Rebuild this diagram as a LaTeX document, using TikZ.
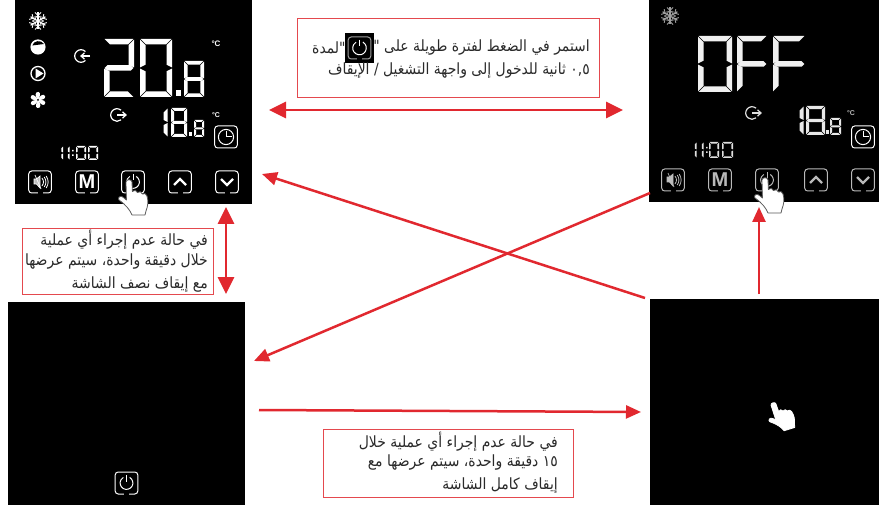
\documentclass[tikz,border=0pt]{standalone}
\usepackage{fontspec}
\usetikzlibrary{arrows.meta}
\TeXXeTstate=1
\newfontfamily\arabicfont[Script=Arabic,FakeStretch=0.9]{DejaVu Sans}
\setmainfont{Liberation Sans}
\definecolor{arrowred}{HTML}{E1282F}
\definecolor{boxred}{HTML}{E4494E}
\definecolor{txt}{HTML}{2A2A2A}
\tikzset{
  panel/.style={fill=black,draw=none,inner sep=0,outer sep=0},
  redarrow/.style={draw=arrowred,line width=2.5pt,-{Triangle[length=15pt,width=13pt]}},
  redboth/.style={draw=arrowred,line width=2.7pt,{Triangle[length=17pt,width=16pt]}-{Triangle[length=17pt,width=16pt]}},
  notebox/.style={draw=boxred,line width=1pt,fill=white},
  artext/.style={font=\arabicfont\fontsize{15.5}{18}\selectfont,text=txt,inner sep=0,anchor=east},
  keyb/.style={draw=#1,line width=1pt,rounded corners=3pt},
  lbl/.style={font=\bfseries\fontsize{#1}{#1}\selectfont,text=white,inner sep=0}
}
% seven-segment digit: #1 x, #2 y, #3 w, #4 h, #5 thickness, #6 colour, #7 list of segments
\newcommand{\sevenseg}[7]{%
  \begin{scope}[shift={(#1,#2)}]
  \def\W{#3}\def\H{#4}\def\T{#5}\def\G{0.6}%
  \foreach \s in {#7}{%
    \ifnum\s=1 \fill[#6] (\G,0) -- (\W-\G,0) -- (\W-\G-\T,\T) -- (\G+\T,\T) -- cycle;\fi
    \ifnum\s=2 \fill[#6] (\W,\G) -- (\W,\H/2-\G) -- (\W-\T,\H/2-\G-\T/2) -- (\W-\T,\G+\T) -- cycle;\fi
    \ifnum\s=3 \fill[#6] (\W,\H/2+\G) -- (\W,\H-\G) -- (\W-\T,\H-\G-\T) -- (\W-\T,\H/2+\G+\T/2) -- cycle;\fi
    \ifnum\s=4 \fill[#6] (\G,\H) -- (\W-\G,\H) -- (\W-\G-\T,\H-\T) -- (\G+\T,\H-\T) -- cycle;\fi
    \ifnum\s=5 \fill[#6] (0,\H/2+\G) -- (0,\H-\G) -- (\T,\H-\G-\T) -- (\T,\H/2+\G+\T/2) -- cycle;\fi
    \ifnum\s=6 \fill[#6] (0,\G) -- (0,\H/2-\G) -- (\T,\H/2-\G-\T/2) -- (\T,\G+\T) -- cycle;\fi
    \ifnum\s=7 \fill[#6] (\G+\T/2,\H/2-\T/2) -- (\W-\G-\T/2,\H/2-\T/2) -- (\W-\G,\H/2) -- (\W-\G-\T/2,\H/2+\T/2) -- (\G+\T/2,\H/2+\T/2) -- (\G,\H/2) -- cycle;\fi
  }%
  \end{scope}}
\newcommand{\keyframe}[3]{\draw[keyb=#3] (#1-11.3,#2-11) rectangle (#1+11.3,#2+11);
  \fill[black] (#1-2.5,#2+10) rectangle (#1+2.5,#2+12);}
\newcommand{\powerglyph}[4]{%
  \draw[#3,line width=1pt] (#1,#2) ++(-60:#4) arc[start angle=-60,end angle=240,radius=#4];
  \draw[#3,line width=1pt] (#1,#2-#4-1.5) -- (#1,#2-1.5);}
\newcommand{\keypower}[3]{\keyframe{#1}{#2}{#3}\powerglyph{#1}{#2}{#3}{6.4}}
\newcommand{\keymode}[3]{\keyframe{#1}{#2}{#3}\node[lbl=20,text=#3] at (#1,#2) {M};}
\newcommand{\keyup}[3]{\keyframe{#1}{#2}{#3}\draw[#3,line width=2.2pt] (#1-6,#2+3) -- (#1,#2-3) -- (#1+6,#2+3);}
\newcommand{\keydown}[3]{\keyframe{#1}{#2}{#3}\draw[#3,line width=2.2pt] (#1-6,#2-3) -- (#1,#2+3) -- (#1+6,#2-3);}
\newcommand{\keymute}[3]{\keyframe{#1}{#2}{#3}
  \draw[#3,line width=0.7pt,fill=gray!50] (#1-6,#2-3) -- (#1-3.5,#2-3) -- (#1,#2-6) -- (#1,#2+6) -- (#1-3.5,#2+2) -- (#1-6,#2+2) -- cycle;
  \draw[#3,line width=0.7pt] (#1-5,#2-7) -- (#1+1,#2+7);
  \draw[#3,line width=0.8pt] (#1+2,#2-4) .. controls (#1+4,#2-1) and (#1+4,#2+1) .. (#1+2,#2+4);
  \draw[#3,line width=0.8pt] (#1+4.2,#2-5) .. controls (#1+6.5,#2-2) and (#1+6.5,#2+2) .. (#1+4.2,#2+5);
  \draw[#3,line width=0.8pt] (#1+6.2,#2-6) .. controls (#1+8.8,#2-2) and (#1+8.8,#2+2) .. (#1+6.2,#2+6);}
\newcommand{\keyclock}[3]{\draw[keyb=#3] (#1-11.3,#2-11) rectangle (#1+11.3,#2+11);
  \draw[#3,line width=1pt] (#1,#2) circle[radius=7.6];
  \draw[#3,line width=1pt] (#1,#2-5.5) -- (#1,#2) -- (#1+5.5,#2);}
\newcommand{\snow}[3]{%
  \foreach \a in {0,60,120}{%
    \draw[#3,line width=1.2pt,rotate around={\a:(#1,#2)}] (#1,#2-8.5) -- (#1,#2+8.5);}
  \foreach \a in {0,60,120,180,240,300}{%
    \draw[#3,line width=0.9pt,rotate around={\a:(#1,#2)}] (#1-3,#2-8.5) -- (#1,#2-5.5) -- (#1+3,#2-8.5);
    \draw[#3,line width=0.9pt,rotate around={\a:(#1,#2)}] (#1-2.4,#2-5) -- (#1,#2-2.8) -- (#1+2.4,#2-5);}}
\newcommand{\arrowin}[3]{%
  \draw[#3,line width=1.2pt] (#1,#2) ++(45:6.3) arc[start angle=45,end angle=315,radius=6.3];
  \draw[#3,line width=1.2pt] (#1+9,#2) -- (#1,#2);
  \draw[#3,line width=1.2pt] (#1+3.5,#2-3.2) -- (#1,#2) -- (#1+3.5,#2+3.2);}
\newcommand{\arrowout}[3]{%
  \draw[#3,line width=1.2pt] (#1,#2) ++(-50:6.3) arc[start angle=-50,end angle=-310,radius=6.3];
  \draw[#3,line width=1.2pt] (#1,#2) -- (#1+9,#2);
  \draw[#3,line width=1.2pt] (#1+5.5,#2-3.2) -- (#1+9,#2) -- (#1+5.5,#2+3.2);}
% hand, origin at fingertip: #1 x, #2 y, #3 angle, #4 colour, #5 scale
\newcommand{\handshape}[5]{%
  \begin{scope}[shift={(#1,#2)},rotate=#3,scale=#5]
  \draw[#4,fill=white,line width=0.8pt,line join=round]
    (-3,2) .. controls (-3,-1) and (3,-1) .. (3,2) -- (3.4,11.5)
    .. controls (5,9.5) and (8,10) .. (8.5,12.5)
    .. controls (10,11) and (13,11.5) .. (13.5,14)
    .. controls (15,13) and (17.5,13.5) .. (18,16)
    .. controls (19.5,21) and (19,26) .. (17,31) -- (16,35)
    -- (3,35) .. controls (1,30) and (-3,25) .. (-10,20)
    .. controls (-12,18) and (-8.5,14.5) .. (-5.5,17.5)
    -- (-2.6,20) -- cycle;
  \end{scope}}
\begin{document}
\begin{tikzpicture}[x=1pt,y=-1pt]
\useasboundingbox (0,0) rectangle (879,508);
\fill[white] (0,0) rectangle (879,508);
% panels
\node[panel,minimum width=237pt,minimum height=204pt,anchor=north west] (pa) at (15,0) {};
\node[panel,minimum width=230pt,minimum height=202pt,anchor=north west] (pb) at (649,0) {};
\node[panel,minimum width=237pt,minimum height=203pt,anchor=north west] (pc) at (8,302) {};
\node[panel,minimum width=229pt,minimum height=206pt,anchor=north west] (pd) at (650,299) {};

% --- panel A
\snow{38}{21}{white}
\fill[white] (38,47) circle[radius=7.6];
\fill[black] (32.3,45.5) .. controls (33.5,40.5) and (41,39.5) .. (44,44) -- cycle;
\draw[white,line width=1.3pt] (38,73.5) circle[radius=7];
\fill[white] (35.5,68.5) -- (43.5,73.5) -- (35.5,78.5) -- cycle;
\foreach \a in {0,60,120,180,240,300}{
  \fill[white,rotate around={\a:(38,100)}] (38,100) .. controls (34.5,96) and (35,91.5) .. (38.5,92) .. controls (41,93) and (40,97) .. (38,100) -- cycle;}
\fill[black] (38,100) circle[radius=1];
\arrowin{81}{56}{white}
\arrowout{117}{115}{white}
\sevenseg{104}{39}{30}{58}{5.5}{white}{1,2,7,5,4}
\sevenseg{140}{39}{32}{58}{5.5}{white}{1,2,3,4,5,6}
\fill[white] (176,90) rectangle (181,96);
\sevenseg{184}{61}{20}{36}{3.6}{white}{1,2,3,4,5,6,7}
\node[lbl=8] (ca) at (216,44) {°C};
\sevenseg{163}{108}{4.5}{29}{4}{white}{2,3}
\sevenseg{171}{108}{16}{29}{3}{white}{1,2,3,4,5,6,7}
\fill[white] (189,132) rectangle (192,136);
\sevenseg{194}{120}{10}{17}{2}{white}{1,2,3,4,5,6,7}
\node[lbl=7] (cb) at (216,115) {°C};
\keyclock{226}{137}{white}
\sevenseg{60.5}{146}{2.5}{14}{1.6}{white}{2,3}
\sevenseg{67}{146}{2.5}{14}{1.6}{white}{2,3}
\fill[white] (72,150) rectangle (73.5,151.5) (72,154.5) rectangle (73.5,156);
\sevenseg{76}{146}{10}{14}{1.7}{white}{1,2,3,4,5,6}
\sevenseg{88}{146}{10}{14}{1.7}{white}{1,2,3,4,5,6}
\keymute{40}{182}{white}
\keymode{87}{182}{white}
\keypower{133}{182}{white}
\keyup{180}{182}{white}
\keydown{227}{182}{white}
\handshape{129}{180}{0}{gray!70!black}{1}

% --- panel B
\snow{670}{16}{gray!75}
\sevenseg{698}{36}{34}{56}{5.5}{gray!12}{1,2,3,4,5,6}
\sevenseg{737}{36}{30}{56}{5.5}{gray!12}{1,6,7,5}
\sevenseg{773}{36}{32}{56}{5.5}{gray!12}{1,6,7,5}
\arrowout{752}{113}{gray!25}
\sevenseg{799}{106}{4.5}{29}{4}{gray!18}{2,3}
\sevenseg{806}{106}{19}{29}{3.2}{gray!18}{1,2,3,4,5,6,7}
\fill[gray!18] (826,130) rectangle (829,134);
\sevenseg{830}{118}{11}{17}{2}{gray!18}{1,2,3,4,5,6,7}
\node[lbl=7,text=gray!55] (cc) at (851,113) {°C};
\keyclock{863}{137}{white}
\sevenseg{694}{142}{2.5}{16}{1.6}{gray!25}{2,3}
\sevenseg{701}{142}{2.5}{16}{1.6}{gray!25}{2,3}
\fill[gray!25] (706,147) rectangle (707.5,148.5) (706,151.5) rectangle (707.5,153);
\sevenseg{709}{142}{10}{16}{1.7}{gray!25}{1,2,3,4,5,6}
\sevenseg{722}{142}{11}{16}{1.7}{gray!25}{1,2,3,4,5,6}
\keymute{673}{180}{gray!55}
\keymode{720}{180}{gray!55}
\keypower{767}{180}{gray!55}
\keyup{816}{180}{gray!55}
\keydown{863}{180}{gray!55}
\handshape{765}{178}{0}{gray!70!black}{1}

% --- panel C
\keypower{126.5}{483}{white}

% --- panel D
\handshape{773}{403}{17}{white}{0.85}

% --- notes
\node[notebox,minimum width=302pt,minimum height=79pt,anchor=north west] (n1) at (297,18) {};
\node[artext] (n1a) at (590,48) {\beginR استمر في الضغط لفترة طويلة على "\endR};
\node[panel,minimum width=29pt,minimum height=30pt] (ic) at (359.5,48) {};
\keyframe{359.5}{48}{gray!75}
\powerglyph{359.5}{48}{white}{6.8}
\node[artext,anchor=west] (n1b) at (312,48) {\beginR "لمدة\endR};
\node[artext] (n1c) at (590,71) {\beginR \beginL ٠,٥\endL{} ثانية للدخول إلى واجهة التشغيل / الإيقاف\endR};

\node[notebox,minimum width=191pt,minimum height=66pt,anchor=north west] (n2) at (22,228) {};
\node[artext] (n2a) at (208,240) {\beginR في حالة عدم إجراء أي عملية\endR};
\node[artext] (n2b) at (208,262) {\beginR خلال دقيقة واحدة، سيتم عرضها\endR};
\node[artext] (n2c) at (208,285) {\beginR مع إيقاف نصف الشاشة\endR};

\node[notebox,minimum width=250pt,minimum height=68pt,anchor=north west] (n3) at (323,429) {};
\node[artext] (n3a) at (558,442) {\beginR في حالة عدم إجراء أي عملية خلال\endR};
\node[artext] (n3b) at (558,463) {\beginR \beginL ١٥\endL{} دقيقة واحدة، سيتم عرضها مع\endR};
\node[artext] (n3c) at (558,486) {\beginR إيقاف كامل الشاشة\endR};

% --- connectors
\coordinate (ab1) at (269,110); \coordinate (ab2) at (623,110);
\coordinate (ac1) at (226,207); \coordinate (ac2) at (226,294);
\coordinate (da1) at (645,298); \coordinate (da2) at (262,174);
\coordinate (bc1) at (650,193); \coordinate (bc2) at (254,361);
\coordinate (cd1) at (259,410); \coordinate (cd2) at (641,412);
\coordinate (db1) at (759,294); \coordinate (db2) at (759,207);
\draw[redboth] (ab1) -- (ab2);
\draw[redboth] (ac1) -- (ac2);
\draw[redarrow] (da1) -- (da2);
\draw[redarrow] (bc1) -- (bc2);
\draw[redarrow] (cd1) -- (cd2);
\draw[redarrow] (db1) -- (db2);
\end{tikzpicture}
\end{document}
